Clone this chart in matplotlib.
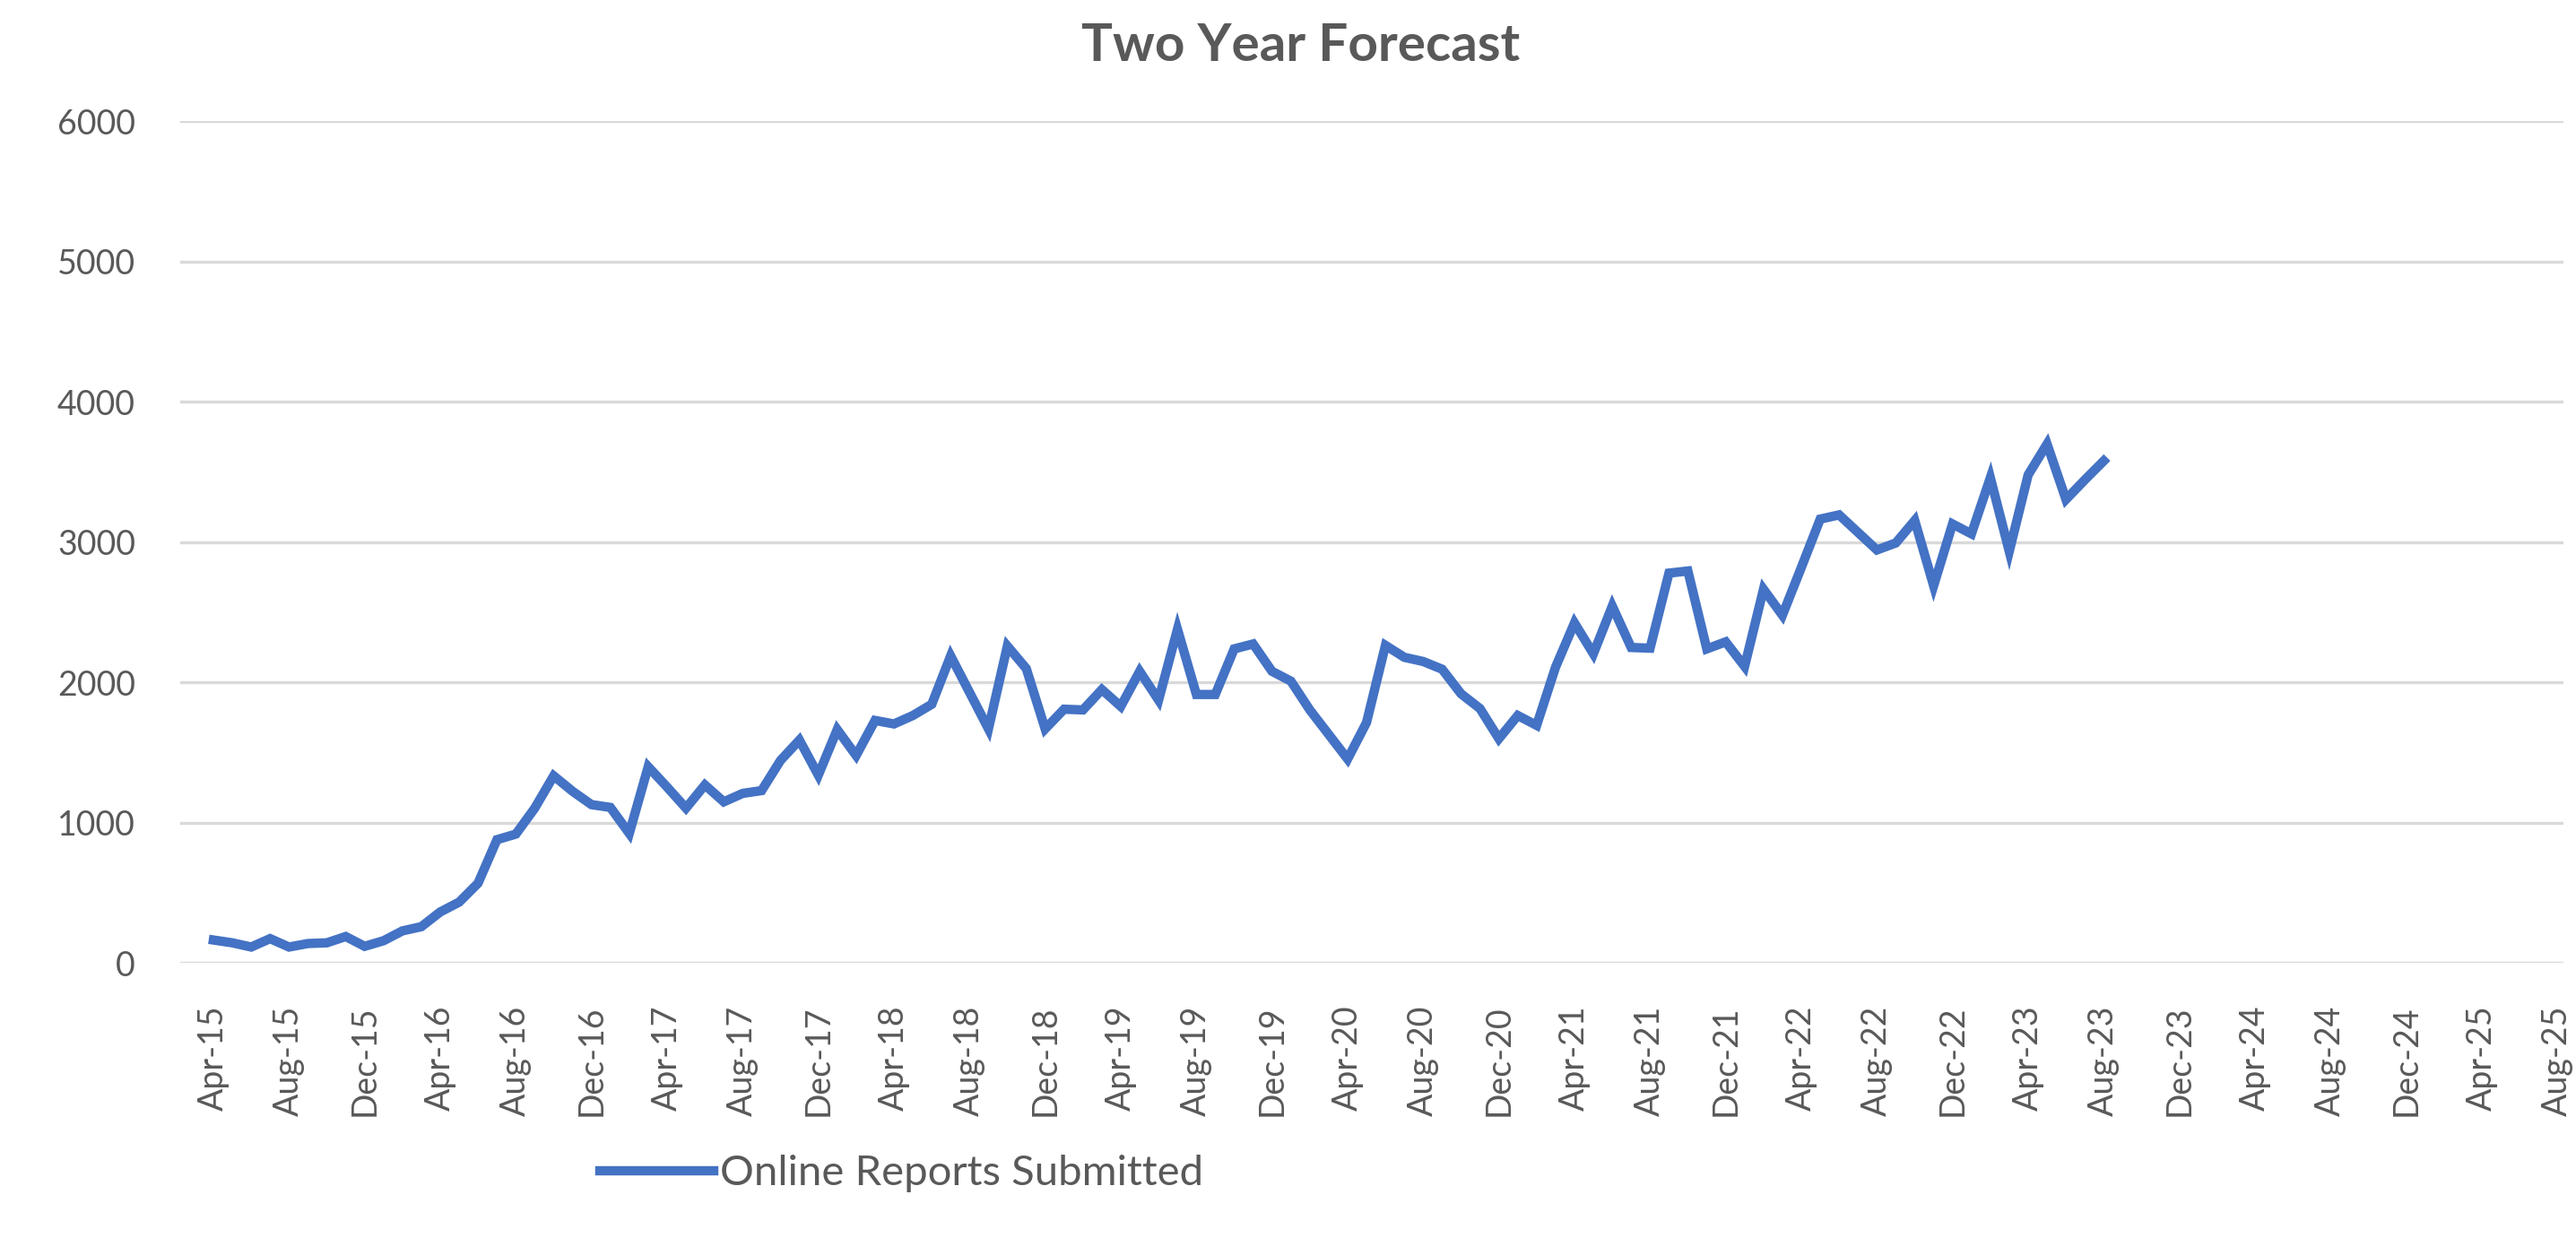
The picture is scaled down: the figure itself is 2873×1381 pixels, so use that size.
import matplotlib
matplotlib.use("Agg")
import matplotlib.pyplot as plt
import numpy as np
import pandas as pd

plt.rcParams['font.family'] = ['Lato', 'DejaVu Sans']

# monthly axis runs Apr-15 .. Aug-25, data only up to Aug-23
months = pd.date_range('2015-04-01', '2025-08-01', freq='MS')
month_labels = [m.strftime('%b-%y') for m in months]

reports = [
    165, 145, 115, 175, 115, 140, 145, 190, 120, 160,
    230, 260, 365, 435, 570, 880, 920, 1105, 1335, 1225,
    1130, 1110, 925, 1400, 1255, 1105, 1270, 1150, 1210, 1230,
    1445, 1590, 1340, 1665, 1480, 1730, 1705, 1765, 1845, 2190,
    1930, 1670, 2260, 2100, 1670, 1810, 1805, 1950, 1830, 2080,
    1875, 2380, 1915, 1915, 2240, 2275, 2080, 2010, 1805, 1630,
    1455, 1715, 2265, 2180, 2150, 2095, 1920, 1815, 1600, 1765,
    1695, 2110, 2425, 2205, 2545, 2250, 2245, 2780, 2795, 2240,
    2290, 2115, 2665, 2480, 2820, 3165, 3195, 3070, 2945, 2995,
    3155, 2690, 3130, 3060, 3460, 2935, 3480, 3700, 3305, 3445,
    3580,
]

y_ticks = [0, 1000, 2000, 3000, 4000, 5000, 6000]

grey = '#595959'
blue = '#4472C4'

fig = plt.figure(figsize=(28.73, 13.81), dpi=100)
ax = fig.add_axes([0.07, 0.222, 0.925, 0.68])

x = np.arange(len(reports))
ax.plot(x, reports, color=blue, linewidth=7.5, solid_joinstyle='miter',
        label='Online Reports Submitted')

ax.set_xlim(-1.75, len(months) - 0.7)
ax.set_ylim(0, 6000)
ax.set_yticks(y_ticks)
ax.set_yticklabels([str(v) for v in y_ticks])

tick_pos = np.arange(0, len(months), 4)
ax.set_xticks(tick_pos)
ax.set_xticklabels([month_labels[i] for i in tick_pos], rotation=90)

ax.grid(axis='y', color='#D9D9D9', linewidth=2.4)
ax.set_axisbelow(True)
for s in ax.spines.values():
    s.set_visible(False)
ax.tick_params(axis='both', length=0, labelcolor=grey, labelsize=27)
ax.tick_params(axis='y', pad=36)
ax.tick_params(axis='x', pad=34)

fig.suptitle('Two Year Forecast', x=0.505, y=0.982, fontsize=42,
             fontweight='bold', color=grey)

leg = fig.legend(loc='center', bbox_to_anchor=(0.35, 0.052), frameon=False,
                 fontsize=34, handlelength=2.7, handletextpad=0.15)
for t in leg.get_texts():
    t.set_color(grey)

fig.savefig('out.png', dpi=100, facecolor='white')
